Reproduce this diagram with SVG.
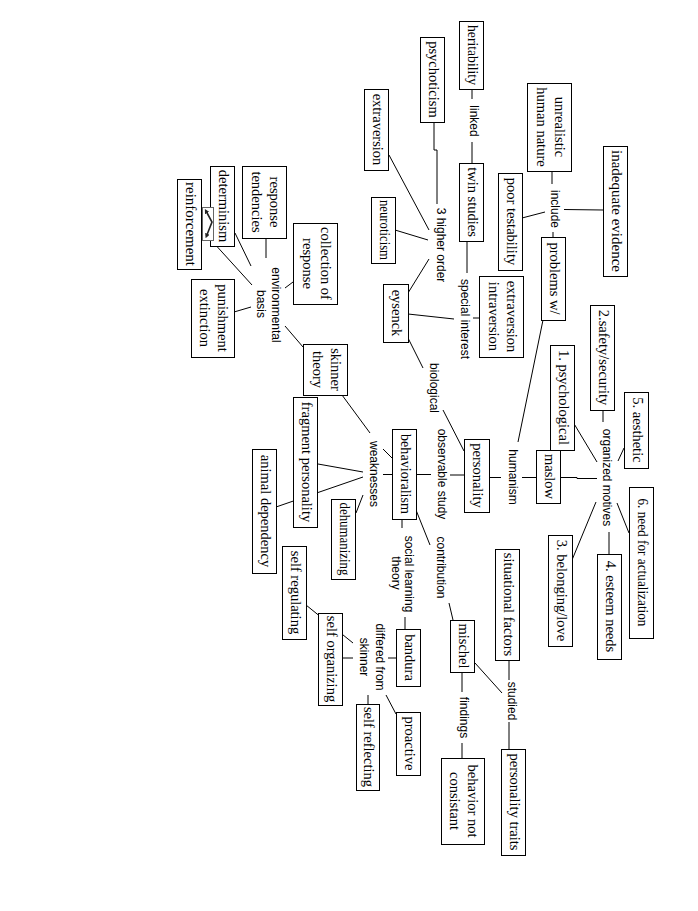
<svg xmlns="http://www.w3.org/2000/svg" width="698" height="911" viewBox="0 0 698 911">
<defs>
<style>
.b{fill:#fff;stroke:#000;stroke-width:1}
.t{font-family:"Liberation Serif","Times New Roman",serif;font-size:14.5px;text-anchor:middle;fill:#000}
.l{font-family:"Liberation Sans",Arial,sans-serif;font-size:12px;text-anchor:middle;fill:#000}
#connectors line,#connectors polyline{stroke:#000;stroke-width:1;fill:none}
</style>
<marker id="ah" viewBox="0 0 6 6" refX="3" refY="3" markerWidth="3" markerHeight="3" orient="auto-start-reverse"><path d="M0,0 L6,3 L0,6 z" fill="#222"/></marker>
</defs>
<rect width="698" height="911" fill="#fff"/>
<g id="connectors">
<line x1="472" y1="89" x2="472" y2="99"/>
<line x1="472" y1="142" x2="472" y2="163"/>
<polyline points="434,122 434,150 437,150 437,204"/>
<line x1="389" y1="155" x2="429" y2="230"/>
<line x1="395" y1="230" x2="428" y2="240"/>
<line x1="429" y1="259" x2="408" y2="293"/>
<line x1="467" y1="241" x2="467" y2="273"/>
<line x1="408" y1="314" x2="454" y2="319"/>
<line x1="473" y1="318" x2="479" y2="318"/>
<line x1="552" y1="171" x2="552" y2="184"/>
<line x1="522" y1="218" x2="545" y2="212"/>
<line x1="564" y1="209.5" x2="603" y2="210"/>
<line x1="553" y1="232" x2="553" y2="237"/>
<line x1="408" y1="338" x2="423" y2="368"/>
<line x1="443" y1="410" x2="464" y2="451"/>
<line x1="416" y1="474.5" x2="431" y2="474.5"/>
<line x1="450" y1="475" x2="464" y2="475"/>
<line x1="489" y1="477.5" x2="501" y2="477.5"/>
<line x1="522" y1="477.5" x2="536" y2="477.5"/>
<line x1="543" y1="320" x2="518" y2="442"/>
<polyline points="560,477.5 577,477.5 577,478.5 597,478.5"/>
<line x1="573" y1="422" x2="597" y2="462"/>
<line x1="603" y1="410" x2="603" y2="422"/>
<line x1="624" y1="448" x2="618" y2="461"/>
<line x1="617" y1="503" x2="629" y2="533"/>
<line x1="596" y1="502" x2="572" y2="560"/>
<line x1="609" y1="532" x2="609" y2="554"/>
<line x1="383" y1="474.5" x2="392" y2="474.5"/>
<line x1="383" y1="449" x2="392" y2="458"/>
<line x1="342" y1="395" x2="370" y2="433"/>
<line x1="363" y1="472" x2="318" y2="464"/>
<line x1="363" y1="477" x2="276" y2="507"/>
<line x1="363" y1="495" x2="356" y2="513"/>
<line x1="266" y1="238" x2="266" y2="258"/>
<line x1="235" y1="233" x2="251" y2="266"/>
<line x1="293" y1="282" x2="285" y2="288"/>
<line x1="234" y1="312" x2="251" y2="307"/>
<line x1="285" y1="326" x2="303" y2="347"/>
<line x1="252" y1="285" x2="202" y2="230"/>
<line x1="402" y1="520" x2="402" y2="528"/>
<line x1="405" y1="617" x2="405" y2="629"/>
<line x1="416" y1="510" x2="430" y2="545"/>
<line x1="449" y1="603" x2="453" y2="620"/>
<line x1="388" y1="658" x2="396" y2="658"/>
<line x1="343" y1="658" x2="353" y2="658"/>
<line x1="353" y1="643" x2="306" y2="605"/>
<line x1="368" y1="695" x2="368" y2="704"/>
<line x1="386" y1="695" x2="396" y2="714"/>
<line x1="509" y1="661" x2="509" y2="680"/>
<line x1="509" y1="722" x2="509" y2="749"/>
<line x1="475" y1="663" x2="502" y2="693"/>
<line x1="462" y1="672" x2="462" y2="692"/>
<line x1="462" y1="743" x2="462" y2="758"/>
</g>
<g id="labels">
<text class="l" x="470" y="121" transform="rotate(90 470 121)">linked</text>
<text class="l" x="437" y="245" transform="rotate(90 437 245)">3 higher order</text>
<text class="l" x="461" y="319" transform="rotate(90 461 319)">special interest</text>
<text class="l" x="551" y="209" transform="rotate(90 551 209)">include</text>
<text class="l" x="430" y="388" transform="rotate(90 430 388)">biological</text>
<text class="l" x="438" y="474" transform="rotate(90 438 474)">observable study</text>
<text class="l" x="509" y="477" transform="rotate(90 509 477)">humanism</text>
<text class="l" x="603" y="477.5" transform="rotate(90 603 477.5)">organized motives</text>
<text class="l" x="370" y="474" transform="rotate(90 370 474)">weaknesses</text>
<text class="l" x="272" y="305" transform="rotate(90 272 305)">environmental</text>
<text class="l" x="257" y="304" transform="rotate(90 257 304)">basis</text>
<text class="l" x="405" y="574" transform="rotate(90 405 574)">social learning</text>
<text class="l" x="392" y="573" transform="rotate(90 392 573)">theory</text>
<text class="l" x="437" y="567.5" transform="rotate(90 437 567.5)">contribution</text>
<text class="l" x="376" y="657" transform="rotate(90 376 657)">differed from</text>
<text class="l" x="360" y="657" transform="rotate(90 360 657)">skinner</text>
<text class="l" x="508" y="701" transform="rotate(90 508 701)">studied</text>
<text class="l" x="460" y="717.5" transform="rotate(90 460 717.5)">findings</text>
</g>
<g id="n1"><rect class="b" x="459.5" y="21.5" width="24" height="68"/><text class="t" x="467.6" y="55" transform="rotate(90 467.6 55)" textLength="60" lengthAdjust="spacingAndGlyphs">heritability</text></g>
<g id="n2"><rect class="b" x="420.5" y="37.5" width="24" height="85"/><text class="t" x="428.6" y="79.5" transform="rotate(90 428.6 79.5)">psychoticism</text></g>
<g id="n3"><rect class="b" x="364.5" y="89.5" width="24" height="81"/><text class="t" x="372.6" y="129.5" transform="rotate(90 372.6 129.5)">extraversion</text></g>
<g id="n4"><rect class="b" x="527.5" y="83.5" width="44" height="88"/><text class="t" x="554.6" y="127" transform="rotate(90 554.6 127)">unrealistic</text><text class="t" x="536.6" y="127" transform="rotate(90 536.6 127)">human nature</text></g>
<g id="n5"><rect class="b" x="459.5" y="163.5" width="24" height="78"/><text class="t" x="467.6" y="202" transform="rotate(90 467.6 202)">twin studies</text></g>
<g id="n6"><rect class="b" x="498.5" y="173.5" width="24" height="97"/><text class="t" x="506.6" y="221.5" transform="rotate(90 506.6 221.5)">poor testability</text></g>
<g id="n7"><rect class="b" x="603.5" y="146.5" width="24" height="130"/><text class="t" x="611.6" y="211" transform="rotate(90 611.6 211)" textLength="122" lengthAdjust="spacingAndGlyphs">inadequate evidence</text></g>
<g id="n8"><rect class="b" x="371.5" y="197.5" width="24" height="66"/><text class="t" x="379.6" y="230" transform="rotate(90 379.6 230)" textLength="60" lengthAdjust="spacingAndGlyphs">neuroticism</text></g>
<g id="n9"><rect class="b" x="541.5" y="237.5" width="24" height="83"/><text class="t" x="549.6" y="278.5" transform="rotate(90 549.6 278.5)">problems w/</text></g>
<g id="n10"><rect class="b" x="383.5" y="284.5" width="25" height="58"/><text class="t" x="392.1" y="313" transform="rotate(90 392.1 313)">eysenck</text></g>
<g id="n11"><rect class="b" x="479.5" y="276.5" width="44" height="81"/><text class="t" x="506.6" y="316.5" transform="rotate(90 506.6 316.5)">extraversion</text><text class="t" x="488.6" y="316.5" transform="rotate(90 488.6 316.5)">intraversion</text></g>
<g id="n12"><rect class="b" x="242.5" y="166.5" width="44" height="72"/><text class="t" x="269.6" y="202" transform="rotate(90 269.6 202)">response</text><text class="t" x="251.6" y="202" transform="rotate(90 251.6 202)">tendencies</text></g>
<g id="n13"><rect class="b" x="210.5" y="166.5" width="24" height="80"/><text class="t" x="218.6" y="206" transform="rotate(90 218.6 206)">determinism</text></g>
<g id="n14"><rect class="b" x="177.5" y="179.5" width="24" height="90"/><text class="t" x="185.6" y="224" transform="rotate(90 185.6 224)" textLength="84" lengthAdjust="spacingAndGlyphs">reinforcement</text></g>
<g id="n15"><rect x="202.5" y="207.5" width="11" height="33" fill="#fff" stroke="#666" stroke-width="1"/><polyline points="206,211 212,222 206.5,236" fill="none" stroke="#222" stroke-width="1.6" marker-start="url(#ah)" marker-end="url(#ah)"/></g>
<g id="n16"><rect class="b" x="293.5" y="223.5" width="44" height="81"/><text class="t" x="320.6" y="263.5" transform="rotate(90 320.6 263.5)">collection of</text><text class="t" x="302.6" y="263.5" transform="rotate(90 302.6 263.5)">response</text></g>
<g id="n17"><rect class="b" x="191.5" y="279.5" width="43" height="78"/><text class="t" x="218.1" y="318" transform="rotate(90 218.1 318)">punishment</text><text class="t" x="200.1" y="318" transform="rotate(90 200.1 318)">extinction</text></g>
<g id="n18"><rect class="b" x="303.5" y="344.5" width="44" height="51"/><text class="t" x="330.6" y="369.5" transform="rotate(90 330.6 369.5)">skinner</text><text class="t" x="312.6" y="369.5" transform="rotate(90 312.6 369.5)">theory</text></g>
<g id="n19"><rect class="b" x="293.5" y="397.5" width="24" height="130"/><text class="t" x="301.6" y="462" transform="rotate(90 301.6 462)">fragment personality</text></g>
<g id="n20"><rect class="b" x="252.5" y="449.5" width="24" height="124"/><text class="t" x="260.6" y="511" transform="rotate(90 260.6 511)">animal dependency</text></g>
<g id="n21"><rect class="b" x="331.5" y="499.5" width="24" height="80"/><text class="t" x="339.6" y="539" transform="rotate(90 339.6 539)" textLength="73" lengthAdjust="spacingAndGlyphs">dehumanizing</text></g>
<g id="n22"><rect class="b" x="392.5" y="429.5" width="24" height="90"/><text class="t" x="400.6" y="474" transform="rotate(90 400.6 474)" textLength="80" lengthAdjust="spacingAndGlyphs">behavioralism</text></g>
<g id="n23"><rect class="b" x="464.5" y="439.5" width="25" height="73"/><text class="t" x="473.1" y="475.5" transform="rotate(90 473.1 475.5)">personality</text></g>
<g id="n25"><rect class="b" x="550.5" y="345.5" width="24" height="105"/><text class="t" x="558.6" y="397.5" transform="rotate(90 558.6 397.5)">1. psychological</text></g>
<g id="n24"><rect class="b" x="536.5" y="450.5" width="24" height="53"/><text class="t" x="544.6" y="476.5" transform="rotate(90 544.6 476.5)">maslow</text></g>
<g id="n26"><rect class="b" x="590.5" y="305.5" width="24" height="105"/><text class="t" x="598.6" y="357.5" transform="rotate(90 598.6 357.5)">2.safety/security</text></g>
<g id="n27"><rect class="b" x="624.5" y="392.5" width="24" height="76"/><text class="t" x="632.6" y="430" transform="rotate(90 632.6 430)">5. aesthetic</text></g>
<g id="n28"><rect class="b" x="629.5" y="487.5" width="24" height="151"/><text class="t" x="637.6" y="562.5" transform="rotate(90 637.6 562.5)" textLength="128" lengthAdjust="spacingAndGlyphs">6. need for actualization</text></g>
<g id="n29"><rect class="b" x="597.5" y="554.5" width="24" height="105"/><text class="t" x="605.6" y="606.5" transform="rotate(90 605.6 606.5)">4. esteem needs</text></g>
<g id="n30"><rect class="b" x="548.5" y="535.5" width="24" height="111"/><text class="t" x="556.6" y="590.5" transform="rotate(90 556.6 590.5)">3. belonging/love</text></g>
<g id="n31"><rect class="b" x="495.5" y="549.5" width="24" height="111"/><text class="t" x="503.6" y="604.5" transform="rotate(90 503.6 604.5)">situational factors</text></g>
<g id="n32"><rect class="b" x="450.5" y="620.5" width="24" height="52"/><text class="t" x="458.6" y="646" transform="rotate(90 458.6 646)">mischel</text></g>
<g id="n33"><rect class="b" x="396.5" y="629.5" width="24" height="57"/><text class="t" x="404.6" y="657.5" transform="rotate(90 404.6 657.5)">bandura</text></g>
<g id="n34"><rect class="b" x="282.5" y="546.5" width="24" height="93"/><text class="t" x="290.6" y="592.5" transform="rotate(90 290.6 592.5)">self regulating</text></g>
<g id="n35"><rect class="b" x="318.5" y="613.5" width="24" height="92"/><text class="t" x="326.6" y="659" transform="rotate(90 326.6 659)">self organizing</text></g>
<g id="n36"><rect class="b" x="396.5" y="712.5" width="24" height="63"/><text class="t" x="404.6" y="743.5" transform="rotate(90 404.6 743.5)">proactive</text></g>
<g id="n37"><rect class="b" x="356.5" y="704.5" width="23" height="86"/><text class="t" x="364.1" y="747" transform="rotate(90 364.1 747)">self reflecting</text></g>
<g id="n38"><rect class="b" x="441.5" y="758.5" width="43" height="86"/><text class="t" x="468.1" y="801" transform="rotate(90 468.1 801)">behavior not</text><text class="t" x="450.1" y="801" transform="rotate(90 450.1 801)">consistant</text></g>
<g id="n39"><rect class="b" x="501.5" y="749.5" width="24" height="106"/><text class="t" x="509.6" y="802" transform="rotate(90 509.6 802)">personality traits</text></g>
</svg>
